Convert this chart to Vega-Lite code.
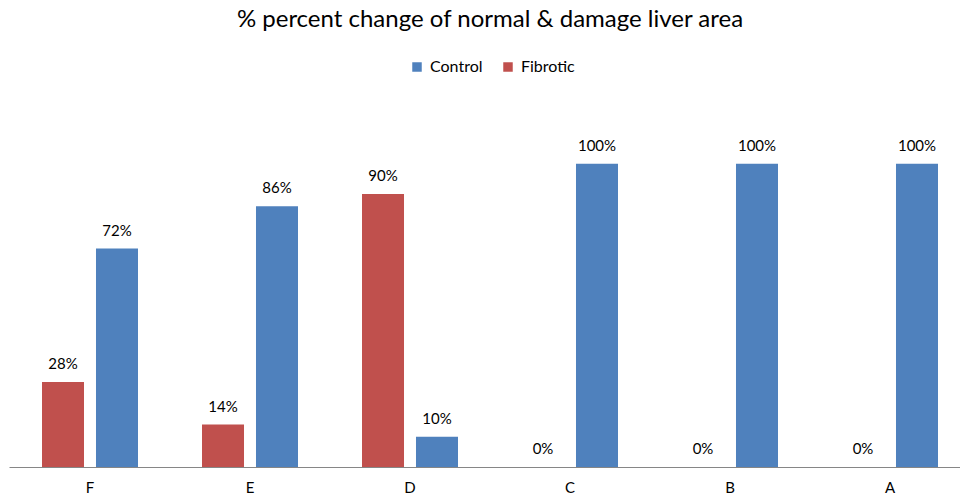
{
  "$schema": "https://vega.github.io/schema/vega-lite/v6.json",
  "width": 962,
  "height": 364,
  "autosize": {"type": "none"},
  "padding": {"left": 9, "top": 103, "right": 0, "bottom": 29},
  "background": "white",
  "title": {
    "text": "% percent change of normal & damage liver area",
    "font": "Lato",
    "fontSize": 24,
    "fontWeight": "normal",
    "color": "#000000",
    "anchor": "middle",
    "frame": "group",
    "offset": 27
  },
  "data": {
    "values": [
      {"group": "F", "series": "Fibrotic", "value": 0.28},
      {"group": "F", "series": "Control", "value": 0.72},
      {"group": "E", "series": "Fibrotic", "value": 0.14},
      {"group": "E", "series": "Control", "value": 0.86},
      {"group": "D", "series": "Fibrotic", "value": 0.90},
      {"group": "D", "series": "Control", "value": 0.10},
      {"group": "C", "series": "Fibrotic", "value": 0.0},
      {"group": "C", "series": "Control", "value": 1.0},
      {"group": "B", "series": "Fibrotic", "value": 0.0},
      {"group": "B", "series": "Control", "value": 1.0},
      {"group": "A", "series": "Fibrotic", "value": 0.0},
      {"group": "A", "series": "Control", "value": 1.0}
    ]
  },
  "encoding": {
    "x": {
      "field": "group",
      "type": "nominal",
      "sort": ["F", "E", "D", "C", "B", "A"],
      "scale": {"paddingInner": 0.4, "paddingOuter": 0.20625},
      "axis": {
        "title": null,
        "labelAngle": 0,
        "ticks": false,
        "domainColor": "#868686",
        "domainWidth": 1,
        "labelFont": "Lato",
        "labelFontSize": 15,
        "labelColor": "#000000",
        "labelPadding": 13,
        "grid": false
      }
    },
    "xOffset": {
      "field": "series",
      "type": "nominal",
      "sort": ["Fibrotic", "Control"],
      "scale": {"paddingInner": 0.222, "paddingOuter": 0}
    },
    "y": {
      "field": "value",
      "type": "quantitative",
      "scale": {"domain": [0, 1.2], "nice": false},
      "axis": null
    }
  },
  "layer": [
    {
      "mark": {"type": "bar"},
      "encoding": {
        "color": {
          "field": "series",
          "type": "nominal",
          "scale": {"domain": ["Control", "Fibrotic"], "range": ["#4F81BD", "#C0504D"]},
          "legend": {
            "title": null,
            "orient": "none",
            "direction": "horizontal",
            "legendX": 400,
            "legendY": -44,
            "symbolType": "square",
            "symbolSize": 90,
            "symbolStrokeWidth": 0,
            "labelFont": "Lato",
            "labelFontSize": 16,
            "labelColor": "#000000",
            "columnPadding": 17,
            "labelOffset": 5
          }
        }
      }
    },
    {
      "mark": {"type": "text", "baseline": "bottom", "dy": -10, "font": "Lato", "fontSize": 15, "color": "#000000"},
      "encoding": {
        "text": {"field": "value", "type": "quantitative", "format": ".0%"}
      }
    }
  ],
  "config": {
    "view": {"stroke": null}
  }
}
